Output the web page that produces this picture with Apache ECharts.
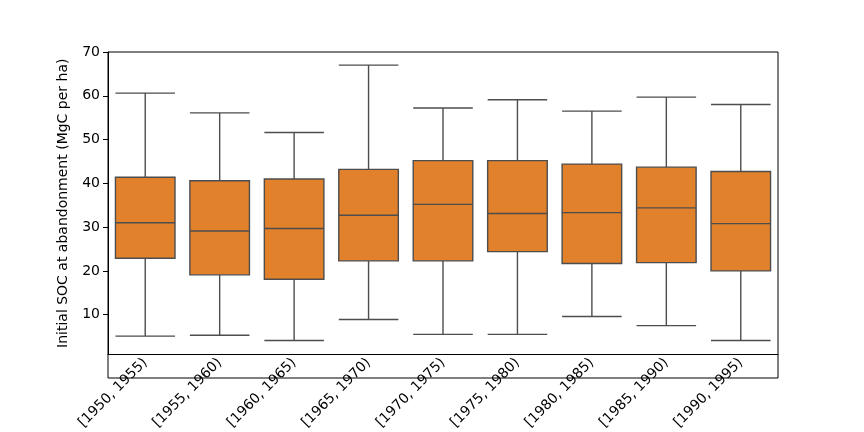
<!DOCTYPE html>
<html lang="en">
  <head>
    <meta charset="UTF-8" />
    <title>Initial SOC box plot</title>
    <script src="https://cdn.jsdelivr.net/npm/echarts@6.0.0/dist/echarts.min.js"></script>
  </head>
  <body style="margin:0">
    <div id="main" style="width: 864px; height: 432px"></div>
    <script type="text/javascript">
      const categories = ["[1950, 1955)", "[1955, 1960)", "[1960, 1965)", "[1965, 1970)", "[1970, 1975)",
        "[1975, 1980)", "[1980, 1985)", "[1985, 1990)", "[1990, 1995)"];
      // [low, q1, median, q3, high]
      const lows = [5.1, 5.3, 4.1, 8.9, 5.5, 5.5, 9.6, 7.5, 4.1];
      const q1s = [22.9, 19.1, 18.1, 22.3, 22.3, 24.4, 21.7, 21.9, 20.0];
      const medians = [31.0, 29.1, 29.7, 32.7, 35.2, 33.1, 33.3, 34.4, 30.8];
      const q3s = [41.4, 40.6, 41.0, 43.2, 45.2, 45.2, 44.4, 43.7, 42.7];
      const highs = [60.6, 56.1, 51.6, 67.0, 57.2, 59.1, 56.5, 59.7, 58.0];
      const yTicks = [10, 20, 30, 40, 50, 60, 70];

      const boxData = categories.map((c, i) => [lows[i], q1s[i], medians[i], q3s[i], highs[i]]);

      var myChart = echarts.init(document.getElementById("main"));
      var option = {
        textStyle: { fontFamily: "DejaVu Sans" },
        grid: { left: 108, right: 86, top: 52, bottom: 54 },
        xAxis: {
          type: "category",
          data: categories,
          axisLine: { onZero: false, lineStyle: { color: "#000" } },
          axisTick: { alignWithLabel: true, length: 5, lineStyle: { color: "#000" } },
          axisLabel: { rotate: 45, color: "#000", fontSize: 14, interval: 0, margin: 6 }
        },
        yAxis: {
          type: "value",
          min: 0.9,
          max: 70,
          name: "Initial SOC at abandonment (MgC per ha)",
          nameLocation: "middle",
          nameGap: 38,
          nameTextStyle: { color: "#000", fontSize: 14 },
          axisLine: { show: true, lineStyle: { color: "#000" } },
          splitLine: { show: false },
          axisLabel: { color: "#000", fontSize: 14, customValues: yTicks },
          axisTick: { show: true, length: 5, customValues: yTicks, lineStyle: { color: "#000" } }
        },
        series: [
          {
            type: "boxplot",
            data: boxData,
            boxWidth: ["80%", "80%"],
            itemStyle: { color: "#e1812c", borderColor: "#4d4d4d", borderWidth: 1.4 }
          }
        ],
        graphic: [{
          type: "rect",
          shape: { x: 108, y: 52, width: 670, height: 326 },
          style: { fill: "none", stroke: "#000", lineWidth: 1 },
          silent: true
        }]
      };
      myChart.setOption(option);
    </script>
  </body>
</html>
